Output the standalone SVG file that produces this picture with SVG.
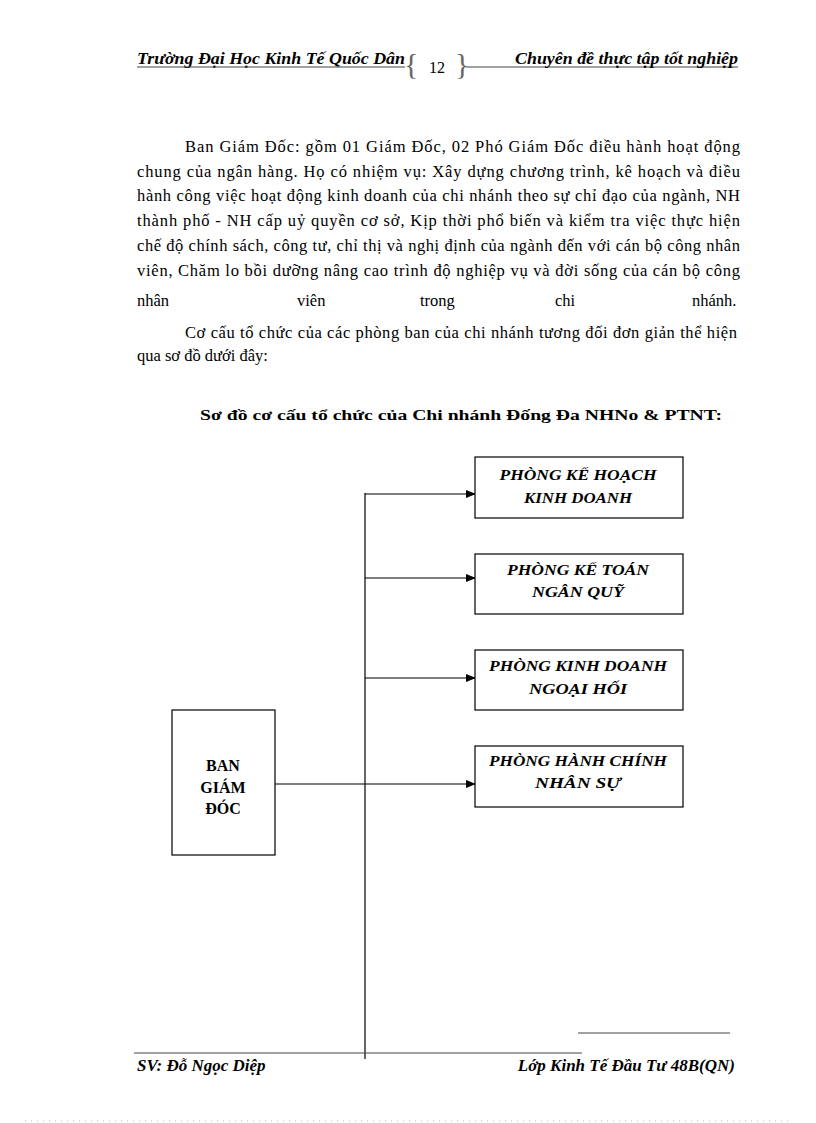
<svg xmlns="http://www.w3.org/2000/svg" width="816" height="1123" viewBox="0 0 816 1123">
<style>
.hdr{font-family:"Liberation Serif",serif;font-weight:bold;font-style:italic;font-size:16px;fill:#000}
.ftr{font-family:"Liberation Serif",serif;font-weight:bold;font-style:italic;font-size:17px;fill:#000}
.body{font-family:"Liberation Serif",serif;font-size:16.5px;fill:#000}
.title{font-family:"Liberation Serif",serif;font-weight:bold;font-size:15.5px;fill:#000}
.box{fill:#fff;stroke:#000;stroke-width:1.2}
.lbl{font-family:"Liberation Serif",serif;font-weight:bold;font-style:italic;font-size:15px;fill:#000;text-anchor:middle}
.ban{font-family:"Liberation Serif",serif;font-weight:bold;font-size:16px;fill:#000;text-anchor:middle}
.ln{stroke:#000;stroke-width:1.2;fill:none}
.rule{stroke:#444;stroke-width:1}
</style>
<defs>
<marker id="arr" markerWidth="10" markerHeight="8" refX="9" refY="4" orient="auto" markerUnits="userSpaceOnUse">
<path d="M0,0 L10,4 L0,8 Z" fill="#000"/>
</marker>
</defs>
<rect width="816" height="1123" fill="#fff"/>
<g id="header">
<text class="hdr" x="137" y="64" textLength="268" lengthAdjust="spacingAndGlyphs">Trường Đại Học  Kinh Tế Quốc Dân</text>
<line class="rule" x1="137" y1="67" x2="405" y2="67"/>
<text x="404" y="74" font-family="Liberation Serif,serif" font-size="30" fill="#666">{</text>
<text x="429" y="73" font-family="Liberation Serif,serif" font-size="16" fill="#000">12</text>
<text x="455" y="74" font-family="Liberation Serif,serif" font-size="30" fill="#666">}</text>
<line class="rule" x1="466" y1="67" x2="738" y2="67"/>
<text class="hdr" x="515" y="64" textLength="223" lengthAdjust="spacingAndGlyphs">Chuyên  đề thực tập tốt nghiệp</text>
</g>
<g id="paragraph">
<text class="body" x="185" y="152" textLength="555" lengthAdjust="spacing">Ban Giám Đốc: gồm 01 Giám Đốc, 02 Phó Giám Đốc điều hành hoạt động</text>
<text class="body" x="137" y="177" textLength="603" lengthAdjust="spacing">chung của ngân hàng. Họ có nhiệm vụ: Xây dựng chương trình, kê hoạch và điều</text>
<text class="body" x="137" y="201" textLength="603" lengthAdjust="spacing">hành công việc hoạt động kinh doanh của chi nhánh theo sự chỉ đạo của ngành, NH</text>
<text class="body" x="137" y="226" textLength="603" lengthAdjust="spacing">thành phố - NH cấp uỷ quyền cơ sở, Kịp thời phổ biến và kiểm tra việc thực hiện</text>
<text class="body" x="137" y="251" textLength="603" lengthAdjust="spacing">chế độ chính sách, công tư, chỉ thị và nghị định của ngành đến với cán bộ công nhân</text>
<text class="body" x="137" y="276" textLength="603" lengthAdjust="spacing">viên, Chăm lo bồi dưỡng nâng cao trình độ nghiệp vụ và đời sống của cán bộ công</text>
<text class="body" y="306"><tspan x="137">nhân</tspan><tspan x="297">viên</tspan><tspan x="420">trong</tspan><tspan x="555">chi</tspan><tspan x="692">nhánh.</tspan></text>
<text class="body" x="185" y="338" textLength="552" lengthAdjust="spacing">Cơ cấu tổ chức của các phòng ban của chi nhánh tương đối đơn giản thể hiện</text>
<text class="body" x="137" y="361">qua sơ đồ dưới đây:</text>
</g>
<text class="title" x="200" y="420" textLength="522" lengthAdjust="spacingAndGlyphs">Sơ đồ cơ cấu tổ chức của Chi nhánh Đống Đa NHNo &amp; PTNT:</text>
<g id="connectors">
<line class="ln" x1="365" y1="493" x2="365" y2="1059"/>
<line class="ln" x1="365" y1="494" x2="475" y2="494" marker-end="url(#arr)"/>
<line class="ln" x1="365" y1="578" x2="475" y2="578" marker-end="url(#arr)"/>
<line class="ln" x1="365" y1="678" x2="475" y2="678" marker-end="url(#arr)"/>
<line class="ln" x1="275" y1="784" x2="475" y2="784" marker-end="url(#arr)"/>
</g>
<g id="node-kehoach">
<rect class="box" x="475" y="457" width="208" height="61"/>
<text class="lbl" x="578" y="480" textLength="157" lengthAdjust="spacingAndGlyphs">PHÒNG KẾ HOẠCH</text>
<text class="lbl" x="578" y="503" textLength="108" lengthAdjust="spacingAndGlyphs">KINH DOANH</text>
</g>
<g id="node-ketoan">
<rect class="box" x="475" y="554" width="208" height="60"/>
<text class="lbl" x="578" y="575" textLength="142" lengthAdjust="spacingAndGlyphs">PHÒNG KẾ TOÁN</text>
<text class="lbl" x="578" y="597" textLength="92" lengthAdjust="spacingAndGlyphs">NGÂN QUỸ</text>
</g>
<g id="node-ngoaihoi">
<rect class="box" x="475" y="650" width="208" height="60"/>
<text class="lbl" x="578" y="671" textLength="178" lengthAdjust="spacingAndGlyphs">PHÒNG KINH DOANH</text>
<text class="lbl" x="578" y="694" textLength="98" lengthAdjust="spacingAndGlyphs">NGOẠI HỐI</text>
</g>
<g id="node-hanhchinh">
<rect class="box" x="475" y="746" width="208" height="61"/>
<text class="lbl" x="578" y="766" textLength="178" lengthAdjust="spacingAndGlyphs">PHÒNG HÀNH CHÍNH</text>
<text class="lbl" x="578" y="788" textLength="86" lengthAdjust="spacingAndGlyphs">NHÂN SỰ</text>
</g>
<g id="node-ban">
<rect class="box" x="172" y="710" width="103" height="145"/>
<text class="ban" x="223" y="771">BAN</text>
<text class="ban" x="223" y="793">GIÁM</text>
<text class="ban" x="223" y="814">ĐÓC</text>
</g>
<g id="footer">
<line class="rule" x1="578" y1="1033" x2="730" y2="1033"/>
<line class="rule" x1="134" y1="1053" x2="582" y2="1053"/>
<text class="ftr" x="137" y="1071">SV: Đỗ Ngọc Diệp</text>
<text class="ftr" x="735" y="1071" text-anchor="end">Lớp Kinh Tế Đầu Tư 48B(QN)</text>
<line x1="25" y1="1121" x2="792" y2="1121" stroke="#bbb" stroke-width="1" stroke-dasharray="1,5"/>
</g>
</svg>
